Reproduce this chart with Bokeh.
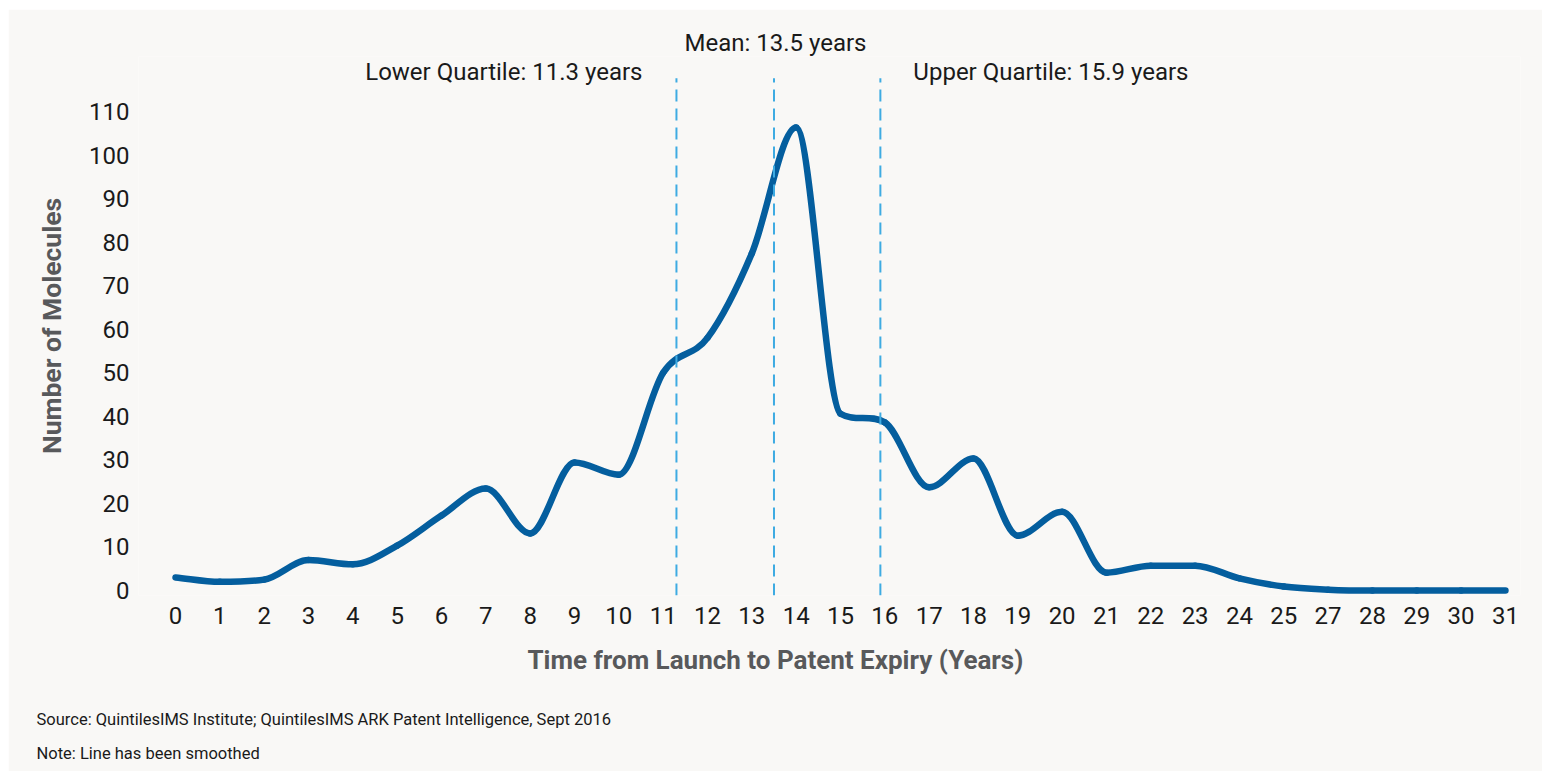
import numpy as np
from bokeh.plotting import figure
from bokeh.models import FixedTicker, Label, Title, Spacer
from bokeh.layouts import column, row
from bokeh.embed import file_html
from bokeh.resources import INLINE

# ---------------- data ----------------
x_labels = [str(v) for v in range(0, 26)] + ["27", "28", "29", "30", "31"]
molecules = [3, 2, 2.5, 7, 6, 10.3, 17.2, 23.4, 13.1, 29.4, 26.6, 50, 58, 77.4,
             106.3, 40.6, 38.6, 23.7, 30.3, 12.6, 18.1, 4.1, 5.7, 5.7, 2.8, 0.9,
             0.2, 0, 0, 0, 0]
y_ticks = list(range(0, 111, 10))
stat_names = ["Lower Quartile", "Mean", "Upper Quartile"]
stat_values = [11.3, 13.5, 15.9]
source_note = "Source: QuintilesIMS Institute; QuintilesIMS ARK Patent Intelligence, Sept 2016"
smooth_note = "Note: Line has been smoothed"
x_title = "Time from Launch to Patent Expiry (Years)"
y_title = "Number of Molecules"

# ---------------- style ----------------
BG = "#f9f8f6"
LINE = "#045e9e"
DASH = "#3eabe2"
TXT = "#1a1a1a"
GREY = "#58595b"
FONT = "Roboto"
W, H = 1534, 762
ML, MR, MT, MB = 130, 22, 47, 176
XR = (-0.835, 30.34)
YR = (-1.148, 122.62)
LINE_TOP = 117.6

p = figure(width=W, height=H, output_backend="svg", toolbar_location=None,
           x_range=XR, y_range=YR,
           min_border_left=ML, min_border_right=MR, min_border_top=MT, min_border_bottom=MB,
           background_fill_color=BG, border_fill_color=BG)
p.outline_line_color = None
p.grid.visible = False

# ---------------- smoothed line (monotone-limited cubic Hermite -> bezier) ----------------
xs = np.arange(len(molecules), dtype=float)
ys = np.array(molecules, dtype=float)
n = len(xs)
d = np.diff(ys)
m = np.zeros(n)
m[0], m[-1] = d[0], d[-1]
for i in range(1, n - 1):
    if d[i - 1] * d[i] <= 0:
        m[i] = 0.0
    else:
        s = 0.5 * (d[i - 1] + d[i])
        lim = 3 * min(abs(d[i - 1]), abs(d[i]))
        m[i] = np.sign(s) * min(abs(s), lim)
p.bezier(x0=xs[:-1], y0=ys[:-1], x1=xs[1:], y1=ys[1:],
         cx0=xs[:-1] + 1 / 3, cy0=ys[:-1] + m[:-1] / 3,
         cx1=xs[1:] - 1 / 3, cy1=ys[1:] - m[1:] / 3,
         line_color=LINE, line_width=6.5, line_cap="round")

# ---------------- stat lines ----------------
p.segment(x0=stat_values, y0=[YR[0]] * 3, x1=stat_values, y1=[LINE_TOP] * 3,
          line_color=DASH, line_width=2, line_dash="12 7")
# quartile labels (inside the frame, next to their lines)
for name, v, off, al in [(stat_names[0], stat_values[0], -34, "right"),
                         (stat_names[2], stat_values[2], 33, "left")]:
    p.add_layout(Label(x=v, y=524, x_units="data", y_units="screen", x_offset=off,
                       text=f"{name}: {v} years", text_align=al, text_baseline="middle",
                       text_font=FONT, text_font_size="24px", text_color=TXT))
# mean label (above the frame)
p.add_layout(Title(text=f"{stat_names[1]}: {stat_values[1]} years", align="left",
                   offset=546, standoff=0, vertical_align="bottom",
                   text_font=FONT, text_font_style="normal", text_font_size="24px",
                   text_color=TXT), "above")

# ---------------- axes ----------------
for ax in (p.xaxis[0], p.yaxis[0]):
    ax.axis_line_color = None
    ax.major_tick_line_color = None
    ax.minor_tick_line_color = None
    ax.major_label_text_font = FONT
    ax.major_label_text_font_size = "24px"
    ax.major_label_text_color = TXT
p.xaxis.ticker = FixedTicker(ticks=list(range(len(x_labels))))
p.xaxis.major_label_overrides = {i: lab for i, lab in enumerate(x_labels)}
p.xaxis.major_label_standoff = 5
p.yaxis.ticker = FixedTicker(ticks=y_ticks)
p.yaxis.major_label_standoff = 3
p.yaxis.axis_label = y_title
p.yaxis.axis_label_text_font = FONT
p.yaxis.axis_label_text_font_style = "bold"
p.yaxis.axis_label_text_font_size = "26.5px"
p.yaxis.axis_label_text_color = GREY
p.yaxis.axis_label_standoff = 19

# ---------------- bottom texts ----------------
p.add_layout(Title(text=x_title, align="left", offset=389, standoff=36, vertical_align="top",
                   text_font=FONT, text_font_style="bold", text_font_size="26px",
                   text_color=GREY), "below")
p.add_layout(Title(text=source_note, align="left", offset=-102, standoff=27,
                   vertical_align="bottom",
                   text_font=FONT, text_font_style="normal", text_font_size="16.5px",
                   text_color=TXT), "below")
p.add_layout(Title(text=smooth_note, align="left", offset=-102, standoff=3,
                   vertical_align="top",
                   text_font=FONT, text_font_style="normal", text_font_size="16.5px",
                   text_color=TXT), "below")

layout = column(Spacer(height=9), row(Spacer(width=8), p))
open("out.html", "w").write(file_html(layout, INLINE))
